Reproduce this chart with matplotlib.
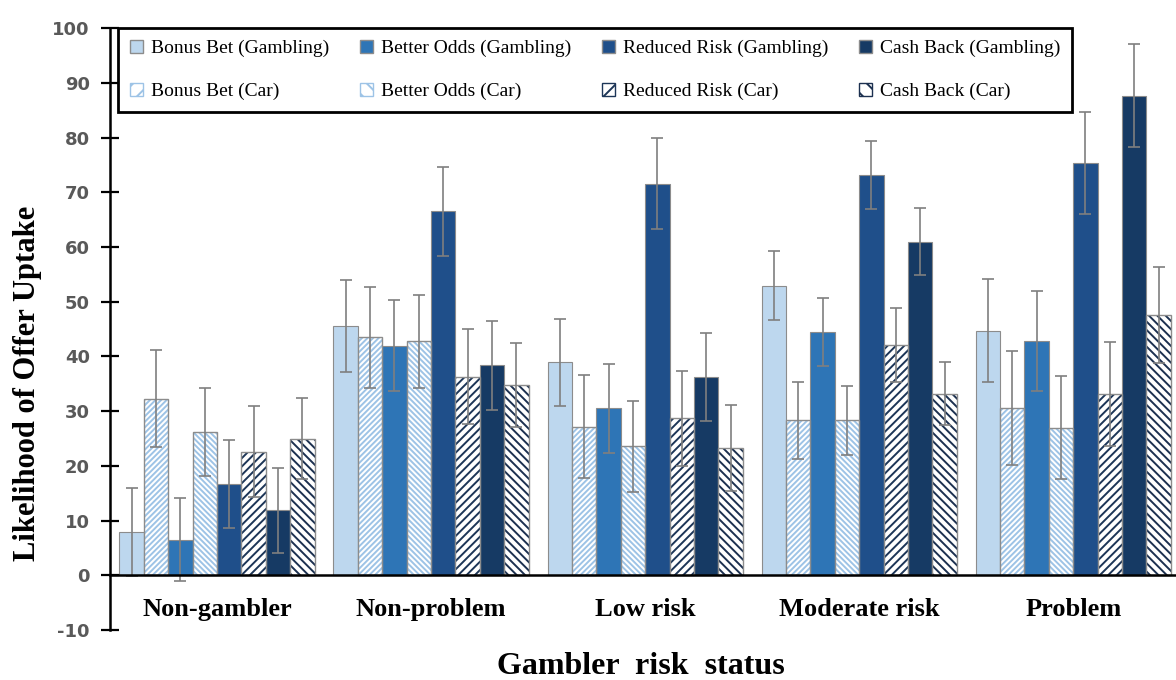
import numpy as np
import matplotlib.pyplot as plt
import matplotlib.patches as mpatches

plt.rcParams['hatch.linewidth'] = 1.4
plt.rcParams['axes.unicode_minus'] = False

# groups on the x axis
groups = ["Non-gambler", "Non-problem", "Low risk", "Moderate risk", "Problem"]

# series, in the order the bars stand in each group
series = ["Bonus Bet (Gambling)", "Bonus Bet (Car)",
          "Better Odds (Gambling)", "Better Odds (Car)",
          "Reduced Risk (Gambling)", "Reduced Risk (Car)",
          "Cash Back (Gambling)", "Cash Back (Car)"]

# mean likelihood, one row per series
means = [
    [7.9, 45.6, 38.9, 52.9, 44.7],     # Bonus Bet (Gambling)
    [32.3, 43.5, 27.2, 28.3, 30.6],    # Bonus Bet (Car)
    [6.5, 42.0, 30.5, 44.5, 42.8],     # Better Odds (Gambling)
    [26.2, 42.8, 23.6, 28.3, 27.0],    # Better Odds (Car)
    [16.7, 66.5, 71.6, 73.1, 75.4],    # Reduced Risk (Gambling)
    [22.6, 36.3, 28.7, 42.1, 33.1],    # Reduced Risk (Car)
    [11.9, 38.4, 36.2, 61.0, 87.7],    # Cash Back (Gambling)
    [25.0, 34.8, 23.3, 33.2, 47.6],    # Cash Back (Car)
]

# error bar half-lengths
errors = [
    [8.0, 8.4, 8.0, 6.3, 9.4],
    [8.8, 9.2, 9.5, 7.0, 10.4],
    [7.6, 8.3, 8.2, 6.2, 9.2],
    [8.0, 8.5, 8.3, 6.3, 9.4],
    [8.0, 8.2, 8.3, 6.2, 9.3],
    [8.3, 8.7, 8.7, 6.7, 9.5],
    [7.8, 8.1, 8.0, 6.1, 9.5],
    [7.4, 7.6, 7.8, 5.7, 8.8],
]

# styling per series: (fill, hatch colour, hatch)
styles = [
    ("#bdd7ee", None, None),
    ("white", "#9dc3e6", "//////"),
    ("#2e75b6", None, None),
    ("white", "#9dc3e6", "\\\\\\\\\\\\"),
    ("#1f4f8a", None, None),
    ("white", "#1c3557", "////"),
    ("#163a64", None, None),
    ("white", "#1c3050", "\\\\\\\\"),
]

fig = plt.figure(figsize=(11.76, 6.8), dpi=100)
ax = fig.add_axes([0.0935, 0.0735, 0.9065, 0.885])

x = np.arange(len(groups))
w = 0.114
handles = []
for i, name in enumerate(series):
    pos = x + (i - 3.5) * w
    fill, hcol, hatch = styles[i]
    if hatch is None:
        ax.bar(pos, means[i], w, color=fill, edgecolor="#8c8c8c", linewidth=0.8, zorder=2)
        handles.append(mpatches.Patch(facecolor=fill, edgecolor="#8c8c8c", label=name))
    else:
        ax.bar(pos, means[i], w, color="white", edgecolor=hcol, hatch=hatch, linewidth=0, zorder=2)
        ax.bar(pos, means[i], w, color="none", edgecolor="#8c8c8c", linewidth=1.0, zorder=3)
        handles.append(mpatches.Patch(facecolor="white", edgecolor=hcol, hatch=hatch[:2], label=name))
    ax.errorbar(pos, means[i], yerr=errors[i], fmt="none", ecolor="#7f7f7f",
                elinewidth=1.2, capsize=4, capthick=1.2, zorder=4)

ax.spines["top"].set_visible(False)
ax.spines["right"].set_visible(False)
ax.spines["bottom"].set_position(("data", 0))
ax.spines["bottom"].set_linewidth(1.8)
ax.spines["left"].set_linewidth(1.8)
ax.spines["bottom"].set_zorder(5)

ax.set_xlim(-0.5, 4.48)
ax.set_ylim(-10, 100)
ax.set_yticks(np.arange(-10, 101, 10))
ax.tick_params(axis="y", direction="inout", length=13, width=1.6, labelsize=13,
               labelcolor="#595959", pad=8)
for lab in ax.get_yticklabels():
    lab.set_fontweight("bold")

ax.set_xticks(x)
ax.set_xticklabels(groups, fontfamily="Liberation Serif", fontweight="bold", fontsize=19)
ax.tick_params(axis="x", length=0, pad=16)

fig.text(0.545, 1 - 667 / 680, "Gambler  risk  status", ha="center", va="center",
         fontfamily="Liberation Serif", fontweight="bold", fontsize=23)
fig.text(28 / 1176, 1 - 383 / 680, "Likelihood of Offer Uptake", ha="center", va="center",
         rotation=90, fontfamily="Liberation Serif", fontweight="bold", fontsize=22)

leg = fig.legend(handles=handles, ncol=4, loc="upper left",
                 bbox_to_anchor=(118 / 1176, 1 - 28 / 680, (1072 - 118) / 1176, 0),
                 mode="expand", borderaxespad=0,
                 prop={"family": "Liberation Serif", "size": 14},
                 handlelength=0.7, handleheight=0.7, handletextpad=0.4,
                 labelspacing=1.3, borderpad=0.6, fancybox=False, framealpha=1)
leg.get_frame().set_edgecolor("black")
leg.get_frame().set_linewidth(2)

fig.savefig("out.png", dpi=100)
